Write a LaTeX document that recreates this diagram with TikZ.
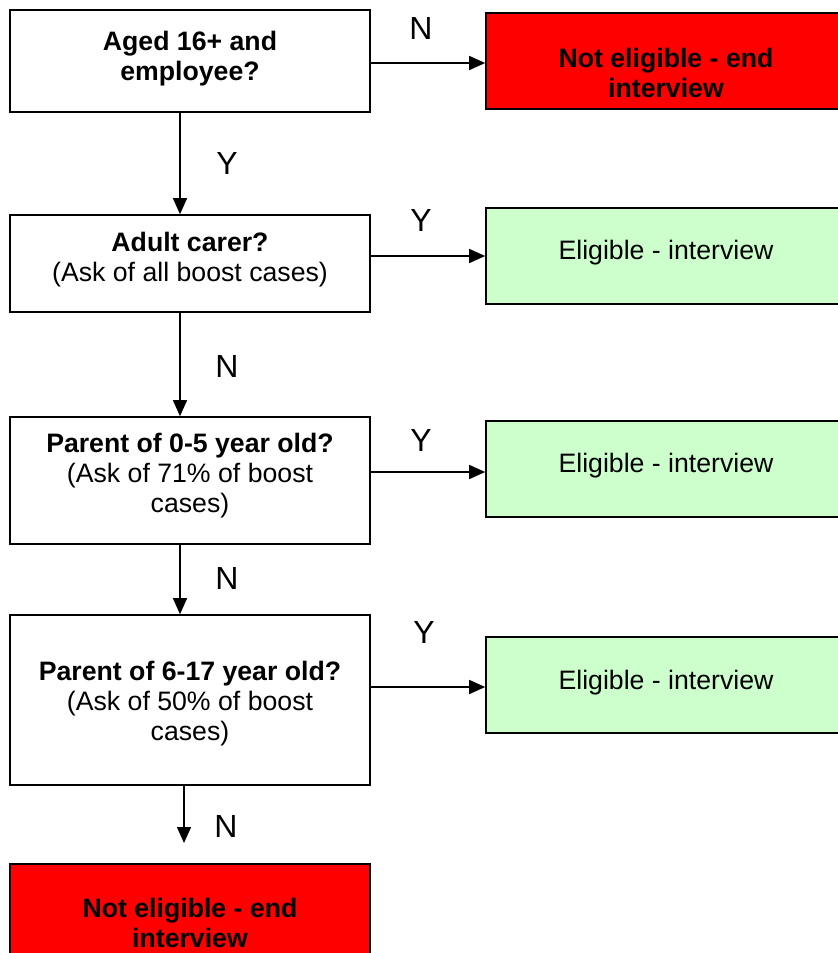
\documentclass[tikz,border=0pt]{standalone}
\usepackage{fontspec}
\setmainfont{Liberation Sans}
\usetikzlibrary{arrows.meta,fit}
\definecolor{boxred}{HTML}{FF0000}
\definecolor{boxgreen}{HTML}{CCFFCC}
\begin{document}
\begin{tikzpicture}[x=0.75pt,y=-0.75pt,
 box/.style={draw=black, line width=1.2pt, inner sep=0pt},
 whitebox/.style={box, fill=white},
 redbox/.style={box, fill=boxred},
 greenbox/.style={box, fill=boxgreen},
 txt/.style={align=center, font=\fontsize{20}{22.5}\selectfont, inner sep=0pt},
 lab/.style={font=\fontsize{24}{28}\selectfont, inner sep=0pt},
 arr/.style={line width=1.1pt, -{Triangle[length=12pt,width=10.5pt]}}]
\useasboundingbox (0,0) rectangle (838,953);
% boxes
\node[whitebox, fit={(10,10) (370,112)}] (b1) {};
\node[redbox, fit={(486,13) (845,109)}] (r1) {};
\node[whitebox, fit={(10,215) (370,312)}] (b2) {};
\node[greenbox, fit={(486,208) (845,304)}] (g1) {};
\node[whitebox, fit={(10,417) (370,544)}] (b3) {};
\node[greenbox, fit={(486,421) (845,517)}] (g2) {};
\node[whitebox, fit={(10,615) (370,785)}] (b4) {};
\node[greenbox, fit={(486,637) (845,733)}] (g3) {};
\node[redbox, fit={(10,864) (370,962)}] (r2) {};
% texts
\node[txt] (t1) at (190,59) {\bfseries Aged 16+ and\\\bfseries employee?};
\node[txt] (tr1) at (666,73) {\bfseries Not eligible - end\\\bfseries interview};
\node[txt] (t2) at (190,260) {\bfseries Adult carer?\\(Ask of all boost cases)};
\node[txt] (tg1) at (666,253) {Eligible - interview};
\node[txt] (t3) at (190,476) {\bfseries Parent of 0-5 year old?\\(Ask of 71\% of boost\\cases)};
\node[txt] (tg2) at (666,466) {Eligible - interview};
\node[txt] (t4) at (190,704) {\bfseries Parent of 6-17 year old?\\(Ask of 50\% of boost\\cases)};
\node[txt] (tg3) at (666,683) {Eligible - interview};
\node[txt] (tr2) at (190,923) {\bfseries Not eligible - end\\\bfseries interview};
% labels
\node[lab] (l1) at (421,28) {N};
\node[lab] (l2) at (227,163) {Y};
\node[lab] (l3) at (421,220) {Y};
\node[lab] (l4) at (227,366) {N};
\node[lab] (l5) at (421,440) {Y};
\node[lab] (l6) at (227,578) {N};
\node[lab] (l7) at (424,632) {Y};
\node[lab] (l8) at (226,826) {N};
% helper coordinates
\coordinate (cx) at (180,0);
\coordinate (cx2) at (184,0);
\coordinate (y1) at (0,63);
\coordinate (y2) at (0,256);
\coordinate (y3) at (0,472);
\coordinate (y4) at (0,687);
\coordinate (e4) at (184,843);
% connectors
\draw[arr] (b1.east |- y1) -- (r1.west |- y1);
\draw[arr] (b2.east |- y2) -- (g1.west |- y2);
\draw[arr] (b3.east |- y3) -- (g2.west |- y3);
\draw[arr] (b4.east |- y4) -- (g3.west |- y4);
\draw[arr] (b1.south -| cx) -- (b2.north -| cx);
\draw[arr] (b2.south -| cx) -- (b3.north -| cx);
\draw[arr] (b3.south -| cx) -- (b4.north -| cx);
\draw[arr] (b4.south -| cx2) -- (e4);
\end{tikzpicture}
\end{document}
